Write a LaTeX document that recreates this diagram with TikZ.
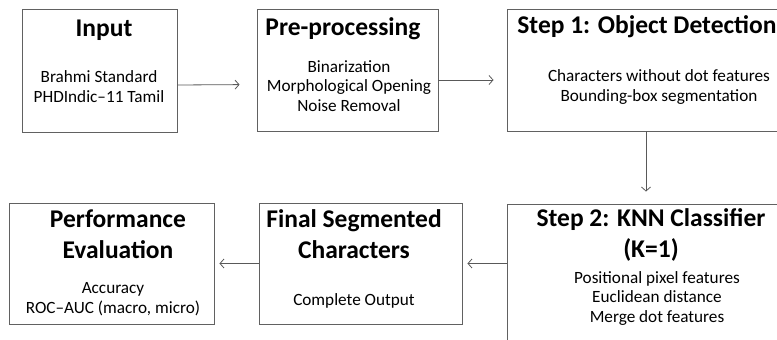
\documentclass[tikz,border=0pt]{standalone}
\usepackage{fontspec}
\setmainfont{Carlito}
\usepackage{tikz}
\usetikzlibrary{arrows.meta, positioning}

\begin{document}
\begin{tikzpicture}[x=1pt, y=-1pt,
  stagebox/.style={draw=black!62, line width=0.9pt, inner sep=0pt},
  headtxt/.style={anchor=base, align=center, inner sep=0pt, font=\fontsize{25.5}{30.5}\selectfont\bfseries},
  bodytxt/.style={anchor=base, align=center, inner sep=0pt, font=\fontsize{17.2}{19.5}\selectfont},
  flow/.style={draw=black!65, line width=0.8pt, -{Straight Barb[length=4pt, width=9pt]}}]
  \useasboundingbox (0,0) rectangle (777,340);
  \clip (0,0) rectangle (777,340);
  % boxes: centre at (x,y), size in px
  \node[stagebox, minimum width=155pt, minimum height=123pt] (input) at (99.5,70.5) {};
  \node[stagebox, minimum width=181pt, minimum height=122pt] (prep) at (347.5,70) {};
  \node[stagebox, minimum width=304pt, minimum height=122pt] (detect) at (659,70) {};
  \node[stagebox, minimum width=300pt, minimum height=166pt] (knn) at (657,287) {};
  \node[stagebox, minimum width=203pt, minimum height=121pt] (final) at (360.5,263.5) {};
  \node[stagebox, minimum width=205pt, minimum height=121pt] (perf) at (111.5,263.5) {};
  % titles and items (anchored on the last line)
  \node[headtxt] (inputhead) at (104,36) {Input};
  \node[bodytxt] (inputbody) at (99,102) {Brahmi Standard\\PHDIndic–11 Tamil};
  \node[headtxt] (prephead) at (343,35) {Pre-processing};
  \node[bodytxt] (prepbody) at (349,111) {Binarization\\Morphological Opening\\Noise Removal};
  \node[headtxt] (detecthead) at (647,33) {Step 1: Object Detection};
  \node[bodytxt] (detectbody) at (659,101) {Characters without dot features\\Bounding-box segmentation};
  \node[headtxt] (knnhead) at (651,257) {Step 2: KNN Classifier\\(K=1)};
  \node[bodytxt] (knnbody) at (657,322) {Positional pixel features\\Euclidean distance\\Merge dot features};
  \node[headtxt] (finalhead) at (354,258) {Final Segmented\\Characters};
  \node[bodytxt] (finalbody) at (354,305) {Complete Output};
  \node[headtxt] (perfhead) at (118,258) {Performance\\Evaluation};
  \node[bodytxt] (perfbody) at (113,313) {Accuracy\\ROC–AUC (macro, micro)};
  % connectors
  \draw[flow, shorten >=17pt] ([yshift=-14.5pt]input.east) -- ([yshift=-14.5pt]prep.west);
  \draw[flow, shorten >=13pt] ([yshift=-10pt]prep.east) -- ([yshift=-10pt]detect.west);
  \draw[flow, shorten >=12pt] ([xshift=-13pt]detect.south) -- ([xshift=-13pt]detect.south |- knn.north);
  \draw[flow, shorten >=5pt] (knn.west |- final.east) -- (final.east);
  \draw[flow, shorten >=5pt] (final.west) -- (perf.east);
\end{tikzpicture}
\end{document}
